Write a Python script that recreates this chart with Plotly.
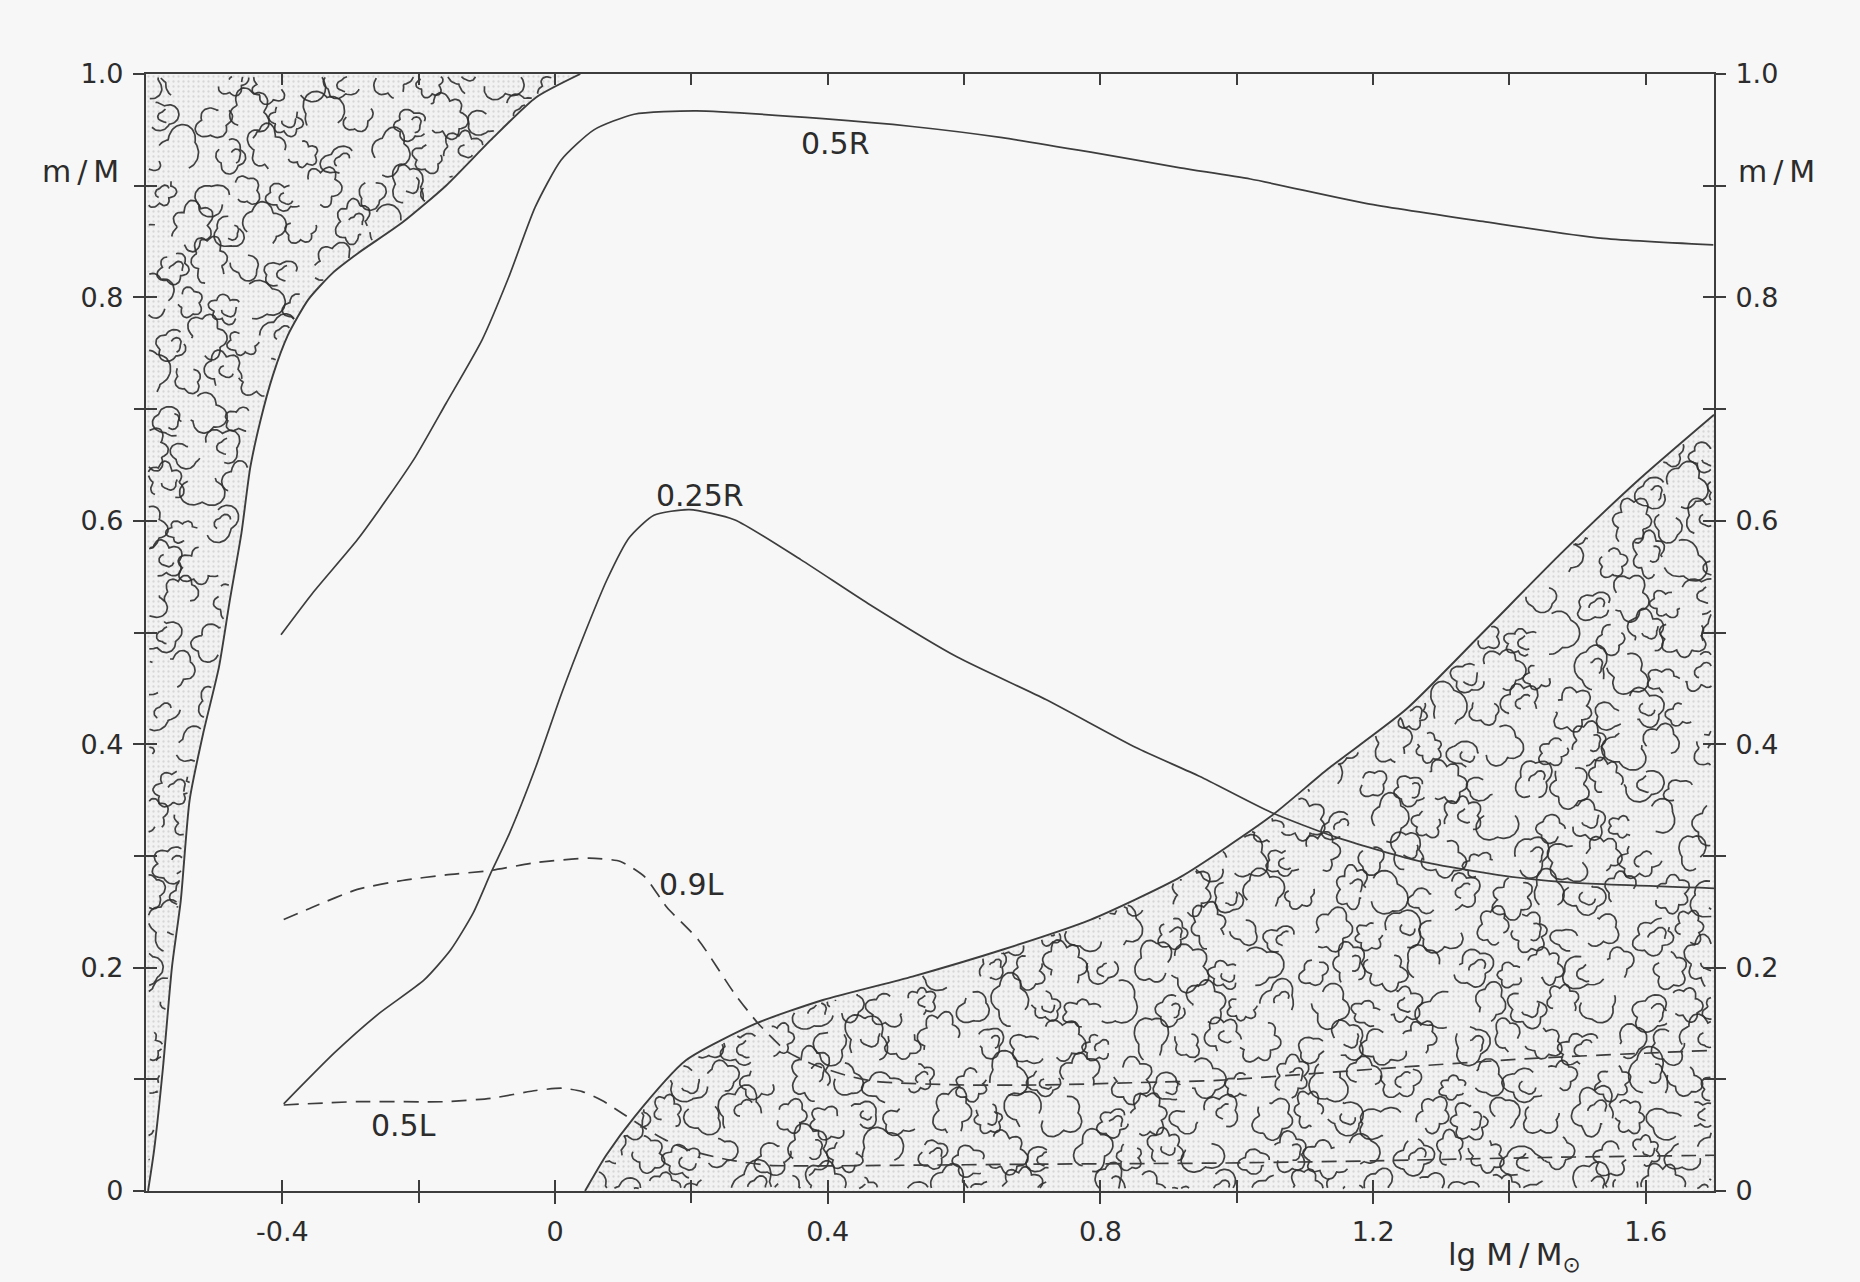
import numpy as np
import plotly.graph_objects as go

# Boundary of the outer convective envelope (x = lg M/Msun, y = m/M), bottom to top
env_x = [-0.597, -0.588, -0.575, -0.562, -0.549, -0.536, -0.516, -0.493, -0.477,
         -0.460, -0.447, -0.432, -0.414, -0.392, -0.362, -0.326, -0.288, -0.224,
         -0.160, -0.094, -0.028, 0.037]
env_y = [0.0, 0.037, 0.111, 0.200, 0.260, 0.350, 0.410, 0.469, 0.529,
         0.589, 0.648, 0.690, 0.730, 0.766, 0.798, 0.822, 0.840, 0.867,
         0.900, 0.941, 0.979, 1.0]

# Boundary of the convective core
core_x = [0.044, 0.075, 0.116, 0.192, 0.295, 0.393, 0.524, 0.656, 0.786, 0.917,
          1.049, 1.134, 1.248, 1.361, 1.476, 1.590, 1.700]
core_y = [0.0, 0.032, 0.066, 0.117, 0.150, 0.171, 0.192, 0.216, 0.243, 0.281,
          0.335, 0.378, 0.431, 0.500, 0.571, 0.637, 0.695]

# Mass inside half the radius
r50_x = [-0.402, -0.356, -0.290, -0.245, -0.205, -0.160, -0.107, -0.068, -0.029,
         0.009, 0.057, 0.116, 0.207, 0.393, 0.524, 0.656, 0.786, 0.917, 1.020,
         1.191, 1.361, 1.533, 1.699]
r50_y = [0.498, 0.535, 0.583, 0.621, 0.657, 0.705, 0.762, 0.818, 0.881,
         0.923, 0.950, 0.964, 0.967, 0.960, 0.953, 0.943, 0.930, 0.916, 0.906,
         0.884, 0.868, 0.853, 0.847]

# Mass inside a quarter of the radius
r25_x = [-0.398, -0.323, -0.258, -0.192, -0.153, -0.120, -0.094, -0.067, -0.028,
         0.010, 0.044, 0.076, 0.109, 0.145, 0.197, 0.263, 0.361, 0.459, 0.590,
         0.720, 0.852, 0.946, 1.050, 1.144, 1.263, 1.382, 1.492, 1.700]
r25_y = [0.078, 0.124, 0.159, 0.189, 0.216, 0.249, 0.285, 0.320, 0.380,
         0.446, 0.500, 0.547, 0.585, 0.605, 0.610, 0.601, 0.565, 0.526, 0.478,
         0.440, 0.397, 0.371, 0.339, 0.317, 0.296, 0.283, 0.276, 0.271]

# Mass producing 90 % of the luminosity
l90_x = [-0.398, -0.356, -0.290, -0.224, -0.160, -0.094, -0.028, 0.050, 0.096,
         0.132, 0.164, 0.210, 0.263, 0.298, 0.340, 0.380, 0.430, 0.471, 0.590,
         0.720, 0.852, 0.971, 1.087, 1.244, 1.442, 1.700]
l90_y = [0.243, 0.254, 0.270, 0.278, 0.283, 0.287, 0.294, 0.298, 0.295,
         0.281, 0.254, 0.225, 0.177, 0.150, 0.125, 0.113, 0.103, 0.098, 0.095,
         0.095, 0.097, 0.099, 0.104, 0.111, 0.119, 0.126]

# Mass producing 50 % of the luminosity
l50_x = [-0.398, -0.290, -0.160, -0.094, -0.028, 0.010, 0.040, 0.069, 0.100,
         0.130, 0.161, 0.200, 0.254, 0.315, 0.500, 0.700, 0.971, 1.200, 1.450, 1.700]
l50_y = [0.077, 0.080, 0.080, 0.083, 0.090, 0.092, 0.089, 0.081, 0.069,
         0.057, 0.046, 0.036, 0.028, 0.023, 0.023, 0.024, 0.025, 0.027, 0.030, 0.032]

curve_labels = ["0.5R", "0.25R", "0.9L", "0.5L"]
label_x = [0.412, 0.212, 0.200, -0.222]
label_y = [0.938, 0.623, 0.274, 0.059]

# labelled ticks and the extra minor ticks between them
x_label_vals = [-0.4, 0.0, 0.4, 0.8, 1.2, 1.6]
x_label_text = ["-0.4", "0", "0.4", "0.8", "1.2", "1.6"]
x_minor_vals = [-0.2, 0.2, 0.6, 1.0, 1.4]
y_label_vals = [0.0, 0.2, 0.4, 0.6, 0.8, 1.0]
y_label_text = ["0", "0.2", "0.4", "0.6", "0.8", "1.0"]
y_minor_vals = [0.1, 0.3, 0.5, 0.7, 0.9]

X_RANGE = [-0.6, 1.7]
Y_RANGE = [0.0, 1.0]

# ---- page geometry / style ----
W, H = 1860, 1282
M_L, M_R, M_T, M_B = 146, 146, 74, 91
PLOT_W = W - M_L - M_R
PLOT_H = H - M_T - M_B
SX = PLOT_W / (X_RANGE[1] - X_RANGE[0])   # px per x unit
SY = PLOT_H / (Y_RANGE[1] - Y_RANGE[0])   # px per y unit

INK = "#3d3d3d"
TEXT = "#2c2c2c"
BG = "#f7f7f7"
FONT = "DejaVu Sans, sans-serif"
THIN = "\u2009"
TICK_LEN = 11


def in_envelope(x, y, inset_px=0.0):
    dx, dy = inset_px / SX, inset_px / SY
    edge = np.interp(y, env_y, env_x)
    return (y >= dy) & (y <= 1.0 - dy) & (x >= X_RANGE[0] + dx) & (x <= edge - dx)


def in_core(x, y, inset_px=0.0):
    dx, dy = inset_px / SX, inset_px / SY
    edge = np.interp(x, core_x, core_y)
    return ((x >= core_x[0]) & (x <= X_RANGE[1] - dx) & (y >= dy)
            & (y <= edge - dy))


def add_arc(xs, ys, inside, cx, cy, rad, k, phase, t0, span, squash, tilt):
    th = np.linspace(t0, t0 + span, 64)
    r = rad * (0.70 + 0.30 * np.abs(np.sin(k * th / 2 + phase))
               + 0.10 * np.sin(2 * th + tilt))
    px = cx + r * np.cos(th) / SX
    py = cy + squash * r * np.sin(th) / SY
    ok = inside(px, py, 2.5)
    for a, b, keep in zip(px, py, ok):
        xs.append(float(a) if keep else None)
        ys.append(float(b) if keep else None)
    xs.append(None)
    ys.append(None)


def cloud_texture(inside, y_top, start):
    """Scalloped open loops used as the usual 'convection' hatching."""
    xs, ys = [], []
    step_x, step_y = 40.0 / SX, 37.0 / SY
    n = start
    row = 0
    cy0 = 0.0
    while cy0 < y_top + step_y:
        cx0 = X_RANGE[0] + (row % 2) * step_x / 2
        while cx0 < X_RANGE[1] + step_x:
            n += 1
            u = (0.5 + n * 0.7548776662) % 1.0
            v = (0.5 + n * 0.5698402910) % 1.0
            w = (n * 0.3819660113) % 1.0
            cx = cx0 + (u - 0.5) * 16 / SX
            cy = cy0 + (v - 0.5) * 16 / SY
            if inside(np.array([cx]), np.array([cy]), -10.0)[0]:
                rad = 14.0 + 9.0 * w
                k = 3 + n % 4
                squash = 0.8 + 0.4 * v
                add_arc(xs, ys, inside, cx, cy, rad, k, 2 * np.pi * w,
                        2 * np.pi * v, 2 * np.pi * (0.62 + 0.3 * u), squash,
                        2 * np.pi * u)
                if n % 3 == 0:
                    add_arc(xs, ys, inside, cx + 0.2 * rad / SX, cy, 0.45 * rad,
                            3, 0.0, 2 * np.pi * u, np.pi * 1.1, 1.0, 0.0)
            cx0 += step_x
        cy0 += step_y
        row += 1
    return xs, ys


fig = go.Figure()

# shaded convective regions
stipple = dict(shape=".", size=5, solidity=0.16, fgcolor="rgba(80,80,80,0.35)",
               bgcolor="rgba(0,0,0,0.02)")
fig.add_trace(go.Scatter(
    x=[X_RANGE[0]] + env_x + [X_RANGE[0]], y=[0.0] + env_y + [1.0],
    mode="none", fill="toself", fillcolor="rgba(0,0,0,0.02)", fillpattern=stipple,
    hoverinfo="skip", showlegend=False))
fig.add_trace(go.Scatter(
    x=core_x + [X_RANGE[1]], y=core_y + [0.0],
    mode="none", fill="toself", fillcolor="rgba(0,0,0,0.02)", fillpattern=stipple,
    hoverinfo="skip", showlegend=False))

for region, top, start in [(in_envelope, 1.0, 0), (in_core, 0.72, 5000)]:
    hx, hy = cloud_texture(region, top, start)
    fig.add_trace(go.Scatter(x=hx, y=hy, mode="lines", connectgaps=False,
                             line=dict(color="rgba(45,45,45,0.9)", width=1.7),
                             hoverinfo="skip", showlegend=False))

# region boundaries
for bx, by in [(env_x, env_y), (core_x, core_y)]:
    fig.add_trace(go.Scatter(x=bx, y=by, mode="lines",
                             line=dict(color=INK, width=1.9, shape="spline", smoothing=0.6),
                             hoverinfo="skip", showlegend=False))

# radius and luminosity curves
for cx, cy, dash, name in [(r50_x, r50_y, "solid", "0.5R"),
                           (r25_x, r25_y, "solid", "0.25R"),
                           (l90_x, l90_y, "15px,9px", "0.9L"),
                           (l50_x, l50_y, "15px,9px", "0.5L")]:
    fig.add_trace(go.Scatter(x=cx, y=cy, mode="lines", name=name,
                             line=dict(color=INK, width=1.7, dash=dash,
                                       shape="spline", smoothing=0.6),
                             showlegend=False))

# empty traces that carry the extra tick axes
extra_axes = [("x2", "y"), ("x3", "y"), ("x4", "y"),
              ("x", "y2"), ("x", "y3"), ("x", "y4"), ("x", "y5"), ("x", "y6")]
for xa, ya in extra_axes:
    fig.add_trace(go.Scatter(x=[None], y=[None], xaxis=xa, yaxis=ya,
                             mode="lines", hoverinfo="skip", showlegend=False))

for txt, lx, ly in zip(curve_labels, label_x, label_y):
    fig.add_annotation(x=lx, y=ly, text=txt, showarrow=False,
                       font=dict(family=FONT, size=30, color=TEXT))

tick_font = dict(family=FONT, size=27, color=TEXT)
base_x = dict(range=X_RANGE, showgrid=False, zeroline=False, tickcolor=INK,
              tickwidth=2, ticklen=TICK_LEN)
base_y = dict(range=Y_RANGE, showgrid=False, zeroline=False, tickcolor=INK,
              tickwidth=2, ticklen=TICK_LEN)
plain = dict(showticklabels=False, showline=False)

fig.update_layout(
    width=W, height=H,
    margin=dict(l=M_L, r=M_R, t=M_T, b=M_B),
    paper_bgcolor=BG, plot_bgcolor=BG,
    # bottom: labelled ticks crossing the frame, minor ticks crossing too
    xaxis=dict(**base_x, tickvals=x_label_vals, ticktext=x_label_text,
               ticks="outside", showline=True, linecolor=INK, linewidth=2.2,
               mirror=True, tickfont=tick_font, ticklabelstandoff=4),
    xaxis2=dict(**base_x, **plain, overlaying="x", anchor="y", side="bottom",
                tickvals=x_minor_vals, ticks="outside"),
    xaxis3=dict(**base_x, **plain, overlaying="x", anchor="y", side="bottom",
                tickvals=x_label_vals + x_minor_vals, ticks="inside"),
    # top: short inward ticks only
    xaxis4=dict(**base_x, **plain, overlaying="x", anchor="y", side="top",
                tickvals=x_label_vals + x_minor_vals, ticks="inside"),
    # left
    yaxis=dict(**base_y, tickvals=y_label_vals, ticktext=y_label_text,
               ticks="outside", showline=True, linecolor=INK, linewidth=2.2,
               mirror=True, tickfont=tick_font, ticklabelstandoff=4),
    yaxis2=dict(**base_y, **plain, overlaying="y", anchor="x", side="left",
                tickvals=y_minor_vals, ticks="outside"),
    yaxis3=dict(**base_y, **plain, overlaying="y", anchor="x", side="left",
                tickvals=y_label_vals + y_minor_vals, ticks="inside"),
    # right
    yaxis4=dict(**base_y, overlaying="y", anchor="x", side="right",
                tickvals=y_label_vals, ticktext=y_label_text, ticks="outside",
                showline=False, tickfont=tick_font, ticklabelstandoff=4),
    yaxis5=dict(**base_y, **plain, overlaying="y", anchor="x", side="right",
                tickvals=y_minor_vals, ticks="outside"),
    yaxis6=dict(**base_y, **plain, overlaying="y", anchor="x", side="right",
                tickvals=y_label_vals + y_minor_vals, ticks="inside"),
)

# axis names
axis_font = dict(family=FONT, size=30, color=TEXT)
fig.add_annotation(xref="paper", yref="y", x=-0.0415, y=0.913, xanchor="center",
                   text=f"m{THIN}/{THIN}M", showarrow=False, font=axis_font)
fig.add_annotation(xref="paper", yref="y", x=1.040, y=0.913, xanchor="center",
                   text=f"m{THIN}/{THIN}M", showarrow=False, font=axis_font)
fig.add_annotation(xref="x", yref="paper", x=1.408, y=-0.059, xanchor="center",
                   yanchor="middle", text=f"lg M{THIN}/{THIN}M<sub>⊙</sub>",
                   showarrow=False, font=dict(family=FONT, size=31, color=TEXT))

fig.write_html("out.html")
